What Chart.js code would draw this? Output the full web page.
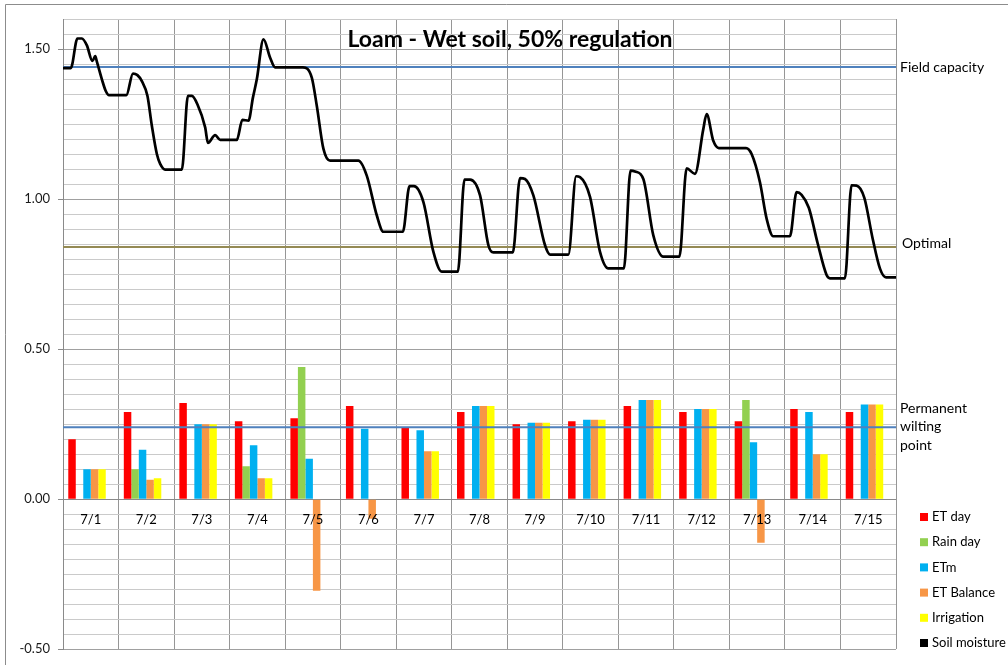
<!DOCTYPE html>
<html>
<head>
<meta charset="utf-8">
<title>Loam - Wet soil, 50% regulation</title>
<script src="https://cdn.jsdelivr.net/npm/chart.js@4.4.1/dist/chart.umd.min.js"></script>
<style>
  html, body { margin: 0; padding: 0; background: #fff; }
  canvas { display: block; }
</style>
</head>
<body>
<canvas id="chart" width="1008" height="665"></canvas>
<script>
// daily water balance
const days = ['7/1', '7/2', '7/3', '7/4', '7/5', '7/6', '7/7', '7/8', '7/9', '7/10', '7/11', '7/12', '7/13', '7/14', '7/15'];
const etDay      = [0.20, 0.29, 0.32, 0.26, 0.27, 0.31, 0.24, 0.29, 0.25, 0.26, 0.31, 0.29, 0.26, 0.30, 0.29];
const rainDay    = [0, 0.10, 0, 0.11, 0.44, 0, 0, 0, 0, 0, 0, 0, 0.33, 0, 0];
const etm        = [0.10, 0.165, 0.25, 0.18, 0.135, 0.235, 0.23, 0.31, 0.255, 0.265, 0.33, 0.30, 0.19, 0.29, 0.315];
const etBalance  = [0.10, 0.065, 0.25, 0.07, -0.305, -0.065, 0.16, 0.31, 0.255, 0.265, 0.33, 0.30, -0.145, 0.15, 0.315];
const irrigation = [0.10, 0.07, 0.25, 0.07, 0, 0, 0.16, 0.31, 0.255, 0.265, 0.33, 0.30, 0, 0.15, 0.315];

// soil moisture trace: time in days from 7/1 00:00, and level
const moistureDay = [0, 0.14, 0.26, 0.34, 0.43, 0.53, 0.58, 0.61, 0.70, 0.77, 0.83, 1.14, 1.26, 1.34, 1.42, 1.52, 1.60, 1.69, 1.75, 1.84,
  2.14, 2.25, 2.32, 2.42, 2.56, 2.61, 2.74, 2.83, 3.13, 3.23, 3.34, 3.42, 3.49, 3.61, 3.73, 3.82, 4.32, 4.48, 4.57, 4.69,
  4.81, 5.32, 5.47, 5.65, 5.77, 6.12, 6.24, 6.32, 6.49, 6.67, 6.82, 7.11, 7.23, 7.33, 7.51, 7.66, 7.75, 8.10, 8.23, 8.32,
  8.47, 8.68, 8.77, 9.10, 9.24, 9.31, 9.49, 9.67, 9.82, 10.10, 10.22, 10.30, 10.45, 10.63, 10.81, 11.10, 11.23, 11.38, 11.53, 11.59,
  11.71, 11.81, 12.30, 12.40, 12.55, 12.67, 12.79, 13.09, 13.21, 13.30, 13.43, 13.59, 13.75, 13.81, 14.08, 14.20, 14.29, 14.43, 14.58, 14.71,
  14.82, 15.00];
const moistureLevel = [1.436, 1.436, 1.535, 1.535, 1.512, 1.460, 1.476, 1.458, 1.399, 1.360, 1.346, 1.346, 1.418, 1.413, 1.393, 1.344, 1.244, 1.150, 1.117, 1.098,
  1.098, 1.344, 1.344, 1.316, 1.239, 1.187, 1.213, 1.197, 1.197, 1.264, 1.261, 1.338, 1.399, 1.532, 1.471, 1.439, 1.439, 1.405, 1.311, 1.167,
  1.128, 1.128, 1.078, 0.946, 0.891, 0.891, 1.043, 1.043, 0.990, 0.824, 0.758, 0.758, 1.065, 1.065, 1.012, 0.846, 0.822, 0.822, 1.070, 1.067,
  1.012, 0.846, 0.815, 0.815, 1.076, 1.073, 1.007, 0.824, 0.769, 0.769, 1.095, 1.092, 1.067, 0.879, 0.808, 0.808, 1.102, 1.084, 1.233, 1.283,
  1.194, 1.170, 1.170, 1.150, 1.056, 0.935, 0.876, 0.876, 1.023, 1.014, 0.971, 0.852, 0.747, 0.736, 0.736, 1.046, 1.045, 1.004, 0.868, 0.769,
  0.739, 0.739];

// soil thresholds
const fieldCapacity = 1.44;
const optimal = 0.84;
const wiltingPoint = 0.24;

const FONT = 'Lato, "Open Sans", sans-serif';

const isMajor = v => Math.abs(v * 2 - Math.round(v * 2)) < 1e-6;

// one shared linear x axis (days); bars sit in the middle of each day
const perDay = values => values.map((v, i) => ({ x: i + 0.5, y: v }));
const flatLine = value => [{ x: 0, y: value }, { x: days.length, y: value }];

const bar = (label, values, color, inLegend = true) => ({
  type: 'bar', label, data: perDay(values), backgroundColor: color, borderWidth: 0,
  barPercentage: 1.0, categoryPercentage: 0.81, order: 3, inLegend: inLegend ? color : null
});

const threshold = (label, value, color) => ({
  type: 'line', label, data: flatLine(value),
  borderColor: color, borderWidth: 2, pointRadius: 0, order: 2
});

const extras = {
  id: 'extras',
  beforeDraw(chart) {
    const ctx = chart.ctx;
    ctx.save();
    ctx.fillStyle = '#fff';
    ctx.fillRect(0, 0, chart.width, chart.height);
    ctx.strokeStyle = '#8c8c8c';
    ctx.lineWidth = 1;
    ctx.beginPath();
    ctx.moveTo(5.5, chart.height);
    ctx.lineTo(5.5, 4.5);
    ctx.lineTo(chart.width, 4.5);
    ctx.stroke();
    ctx.restore();
  },
  afterDraw(chart) {
    const ctx = chart.ctx;
    const xs = chart.scales.x, ys = chart.scales.y;
    ctx.save();
    ctx.fillStyle = '#000';

    // title
    ctx.font = 'bold 23px ' + FONT;
    ctx.textAlign = 'center';
    ctx.textBaseline = 'middle';
    ctx.fillText('Loam - Wet soil, 50% regulation', 510, 40);

    // day labels along the zero line
    ctx.font = '13px ' + FONT;
    const y0 = ys.getPixelForValue(0);
    days.forEach((d, i) => ctx.fillText(d, xs.getPixelForValue(i + 0.5), y0 + 21));

    // threshold captions
    ctx.font = '14px ' + FONT;
    ctx.textAlign = 'left';
    const right = chart.chartArea.right;
    ctx.fillText('Field capacity', right + 4, ys.getPixelForValue(fieldCapacity));
    ctx.fillText('Optimal', right + 6, ys.getPixelForValue(optimal) - 4);
    const wp = ys.getPixelForValue(wiltingPoint);
    ['Permanent', 'wilting', 'point'].forEach((t, i) => ctx.fillText(t, right + 4, wp - 19 + i * 18.5));

    // legend
    ctx.font = '13px ' + FONT;
    const items = chart.data.datasets.filter(ds => ds.inLegend);
    items.forEach((ds, i) => {
      const y = 517 + i * 25.2;
      ctx.fillStyle = ds.inLegend;
      ctx.fillRect(920, y - 4, 8, 8);
      ctx.fillStyle = '#000';
      ctx.fillText(ds.label, 932, y);
    });
    ctx.restore();
  }
};

const datasets = [
  bar('ET day', etDay, '#ff0000'),
  bar('Rain day', rainDay, '#92d050'),
  bar('ETm', etm, '#00b0f0'),
  bar('ET Balance', etBalance, '#f79646'),
  bar('Irrigation', irrigation, '#ffff00'),
  bar('', days.map(() => null), 'transparent', false),
  threshold('Field capacity', fieldCapacity, '#4f81bd'),
  threshold('Optimal', optimal, '#948a54'),
  threshold('Permanent wilting point', wiltingPoint, '#4f81bd'),
  {
    type: 'line', label: 'Soil moisture', inLegend: '#000',
    data: moistureDay.map((d, i) => ({ x: d, y: moistureLevel[i] })),
    borderColor: '#000', borderWidth: 2.7, pointRadius: 0,
    cubicInterpolationMode: 'monotone', order: 1
  }
];

new Chart(document.getElementById('chart'), {
  type: 'bar',
  data: { datasets },
  options: {
    responsive: false,
    animation: false,
    layout: { padding: { left: 0, top: 19, right: 112, bottom: 13 } },
    plugins: { legend: { display: false }, tooltip: { enabled: false } },
    scales: {
      x: {
        type: 'linear',
        min: 0,
        max: days.length,
        offset: false,
        grid: { offset: false, color: '#969696', drawTicks: false },
        ticks: { display: false, stepSize: 1 },
        border: { display: false },
        afterFit(s) { s.height = 0; }
      },
      y: {
        min: -0.5,
        max: 1.6,
        ticks: {
          stepSize: 0.05,
          autoSkip: false,
          padding: 8,
          color: '#1a1a1a',
          font: { family: FONT, size: 13 },
          callback: v => (isMajor(v) && v < 1.55 ? v.toFixed(2) : '')
        },
        grid: {
          color: c => (Math.abs(c.tick.value) < 1e-6 ? '#8a8a8a' : isMajor(c.tick.value) ? '#a0a0a0' : '#cacaca'),
          tickColor: c => (isMajor(c.tick.value) && c.tick.value < 1.55 ? '#8a8a8a' : 'transparent'),
          tickLength: 5
        },
        border: { color: '#8a8a8a' },
        afterFit(s) { s.width = 63; }
      }
    }
  },
  plugins: [extras]
});
</script>
</body>
</html>
